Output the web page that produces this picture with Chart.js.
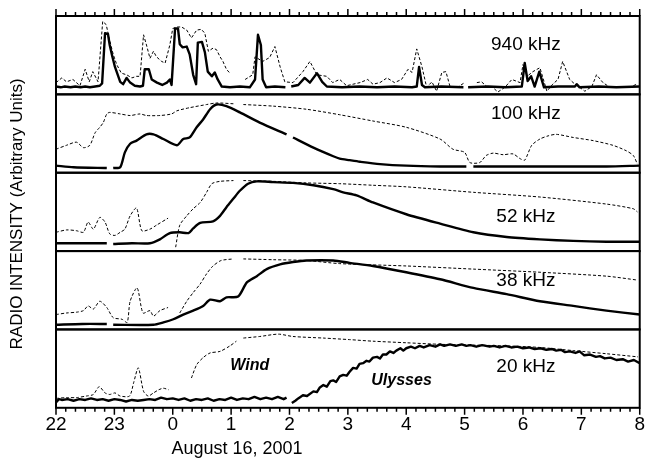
<!DOCTYPE html>
<html>
<head>
<meta charset="utf-8">
<script src="https://cdn.jsdelivr.net/npm/chart.js@4.4.1/dist/chart.umd.min.js"></script>
<style>
  html, body { margin: 0; padding: 0; background: #fff; }
</style>
</head>
<body>
<canvas id="radio" width="645" height="459"></canvas>
<script>
// x = hours after 22 UT (Aug 15), 10 h span; labels for the whole hours
var hourLabels = ['22', '23', '0', '1', '2', '3', '4', '5', '6', '7', '8'];
var freqLabels = ['940 kHz', '100 kHz', '52 kHz', '38 kHz', '20 kHz'];

// [hours, relative intensity 0-100 inside its panel]; null = data gap
var uly940 = [[0,10],[0.08,9],[0.15,10],[0.25,9],[0.33,10],[0.42,9],[0.5,10],[0.58,9],[0.67,10],[0.75,11],[0.79,14],[0.84,78],[0.89,77],[0.92,63],[0.96,50],[1.01,35],[1.10,16],[1.15,13],[1.21,21],[1.27,15],[1.35,11],[1.44,10],[1.49,11],[1.52,32],[1.59,32],[1.64,19],[1.73,15],[1.82,12],[1.90,15],[1.95,19],[1.98,12],[2.04,84],[2.09,84],[2.12,64],[2.17,60],[2.24,61],[2.29,51],[2.35,25],[2.40,13],[2.43,66],[2.50,67],[2.55,54],[2.60,29],[2.67,23],[2.72,28],[2.77,19],[2.84,10],[2.98,9],[3.15,10],[3.32,9],[3.41,19],[3.46,76],[3.51,63],[3.54,19],[3.60,9],[3.75,10],[3.93,9],[3.97,null],[4.03,10],[4.15,12],[4.26,21],[4.35,15],[4.47,27],[4.56,16],[4.64,10],[4.9,9],[5.2,10],[5.5,9],[5.8,10],[6.1,9],[6.18,10],[6.22,35],[6.27,12],[6.32,9],[6.6,10],[6.98,9],[7.02,null],[7.06,9],[7.4,10],[7.7,9],[7.98,10],[8.03,40],[8.08,17],[8.14,23],[8.2,10],[8.28,29],[8.36,9],[8.6,10],[8.89,10],[8.92,13],[8.97,9],[9.3,10],[9.6,9],[10,10]];
var wind940 = [[0,15],[0.10,21],[0.18,16],[0.29,19],[0.41,11],[0.50,32],[0.57,16],[0.63,29],[0.72,16],[0.80,93],[0.86,89],[0.91,72],[0.98,51],[1.04,38],[1.12,27],[1.21,25],[1.30,21],[1.38,23],[1.44,23],[1.50,76],[1.55,63],[1.61,46],[1.67,55],[1.72,48],[1.81,42],[1.87,40],[1.95,63],[2.00,84],[2.07,86],[2.15,86],[2.24,82],[2.32,72],[2.41,82],[2.49,83],[2.55,78],[2.61,55],[2.69,59],[2.75,57],[2.81,48],[2.86,42],[2.92,32],[2.98,27],[3.05,null],[3.24,19],[3.37,25],[3.41,48],[3.54,42],[3.66,47],[3.75,61],[3.84,35],[3.92,16],[4.06,15],[4.23,29],[4.35,42],[4.47,25],[4.64,23],[4.74,15],[4.86,19],[4.98,11],[5.09,13],[5.21,15],[5.34,19],[5.43,13],[5.55,15],[5.67,21],[5.80,15],[5.92,19],[6.03,32],[6.10,28],[6.18,58],[6.27,35],[6.35,9],[6.44,16],[6.52,4],[6.61,28],[6.68,29],[6.75,10],[6.88,9],[7.00,15],[7.05,null],[7.21,15],[7.29,16],[7.38,10],[7.48,9],[7.57,3],[7.69,9],[7.81,19],[7.95,15],[8.00,38],[8.07,23],[8.17,29],[8.29,34],[8.41,4],[8.51,13],[8.60,19],[8.68,42],[8.80,19],[8.89,13],[8.97,9],[9.06,4],[9.18,10],[9.26,25],[9.37,15],[9.49,9],[9.66,10],[9.83,9],[9.95,13]];

var uly100 = [[0,9],[0.30,7],[0.87,6],[0.92,null],[0.98,6],[1.10,7],[1.18,26],[1.27,37],[1.38,41],[1.55,49],[1.67,49],[1.84,43],[2.07,35],[2.18,43],[2.29,45],[2.41,58],[2.52,68],[2.64,81],[2.75,87],[2.92,85],[3.15,77],[3.49,64],[3.95,49],[3.99,null],[4.06,45],[4.41,32],[4.75,21],[4.86,18],[5.03,16],[5.21,14],[5.55,11],[6.00,9],[6.58,8],[7.03,8],[7.06,null],[7.15,8],[8.29,8],[9.43,8],[10,9]];
var wind100 = [[0,30],[0.18,35],[0.35,39],[0.47,32],[0.58,35],[0.67,51],[0.75,58],[0.81,64],[0.87,75],[0.92,77],[1.10,75],[1.27,73],[1.44,75],[1.55,73],[1.78,73],[1.98,75],[2.07,79],[2.29,83],[2.58,87],[2.75,89],[3.04,88],[3.08,null],[3.21,87],[3.72,85],[4.29,81],[4.86,74],[5.43,66],[6.00,58],[6.58,43],[6.80,30],[7.00,26],[7.09,13],[7.26,13],[7.37,22],[7.49,25],[7.66,23],[7.83,24],[7.95,18],[8.03,16],[8.15,35],[8.29,43],[8.43,47],[8.57,49],[8.86,45],[9.20,41],[9.54,35],[9.77,28],[9.89,22],[9.96,11]];

var uly52 = [[0,10],[0.45,10],[0.87,10],[0.90,null],[0.98,9],[1.30,10],[1.61,10],[1.78,15],[1.95,23],[2.12,24],[2.27,23],[2.35,29],[2.47,36],[2.69,38],[2.81,45],[2.92,56],[3.04,67],[3.15,77],[3.29,86],[3.44,89],[3.72,88],[4.06,87],[4.41,84],[4.75,79],[4.92,75],[5.15,71],[5.43,62],[6.00,47],[6.58,35],[7.15,24],[7.72,18],[8.29,15],[8.86,13],[9.43,12],[10,12]];
var wind52 = [[0,24],[0.18,27],[0.35,26],[0.47,24],[0.55,37],[0.64,28],[0.75,43],[0.84,37],[0.92,22],[1.01,20],[1.10,24],[1.18,28],[1.27,45],[1.38,55],[1.47,26],[1.61,28],[1.72,33],[1.92,42],[1.96,null],[2.05,5],[2.12,33],[2.24,45],[2.35,54],[2.47,62],[2.58,75],[2.67,86],[2.81,89],[3.04,90],[3.08,null],[3.21,90],[3.72,89],[4.29,87],[4.86,86],[5.43,84],[6.00,82],[7.15,75],[8.29,69],[9.43,60],[9.89,54],[9.96,50]];

var uly38 = [[0,6],[0.45,7],[0.87,7],[0.92,null],[0.98,6],[1.67,6],[1.84,9],[2.01,13],[2.18,19],[2.35,24],[2.52,30],[2.64,38],[2.81,36],[2.92,41],[3.12,42],[3.27,60],[3.44,68],[3.61,77],[3.84,83],[4.06,86],[4.29,88],[4.75,88],[5.03,85],[5.43,81],[6.00,73],[6.58,64],[7.15,53],[7.72,45],[8.29,36],[8.86,30],[9.43,24],[10,19]];
var wind38 = [[0,19],[0.18,21],[0.35,22],[0.47,24],[0.55,30],[0.64,26],[0.75,36],[0.87,28],[0.98,15],[1.13,13],[1.22,9],[1.27,36],[1.39,53],[1.49,21],[1.61,24],[1.67,17],[1.78,24],[1.92,28],[1.96,null],[2.12,21],[2.24,36],[2.35,47],[2.47,58],[2.58,71],[2.69,81],[2.83,88],[3.04,90],[3.08,null],[3.21,90],[3.72,89],[4.29,88],[4.86,84],[6.00,81],[7.15,77],[8.29,73],[9.43,68],[9.96,63]];

var uly20 = [[0,7],[0.05,11],[0.1,10],[0.2,11],[0.3,9],[0.4,11],[0.5,10],[0.6,12],[0.7,10],[0.8,11],[0.9,9],[1.0,11],[1.1,10],[1.2,8],[1.3,10],[1.4,9],[1.5,10],[1.6,11],[1.7,10],[1.8,13],[1.9,11],[2.0,12],[2.1,10],[2.2,12],[2.3,9],[2.4,11],[2.5,10],[2.6,12],[2.7,9],[2.8,11],[2.9,10],[3.0,13],[3.1,10],[3.2,12],[3.3,11],[3.4,14],[3.5,11],[3.6,13],[3.7,11],[3.8,14],[3.9,11],[3.95,13],[3.99,null],[4.04,6],[4.1,9],[4.15,12],[4.23,16],[4.3,15],[4.41,21],[4.47,20],[4.52,26],[4.58,29],[4.64,27],[4.7,34],[4.75,35],[4.8,33],[4.86,40],[4.92,42],[4.98,41],[5.03,46],[5.09,51],[5.15,50],[5.2,56],[5.26,57],[5.32,60],[5.37,59],[5.43,64],[5.5,65],[5.55,63],[5.6,68],[5.66,68],[5.72,72],[5.78,70],[5.83,73],[5.9,76],[5.95,73],[6.0,76],[6.08,78],[6.15,76],[6.23,79],[6.3,77],[6.4,80],[6.5,78],[6.58,81],[6.65,79],[6.75,81],[6.85,79],[6.95,81],[7.03,79],[7.1,80],[7.2,78],[7.3,80],[7.43,78],[7.5,79],[7.6,77],[7.7,79],[7.8,77],[7.9,78],[8.0,76],[8.1,77],[8.2,75],[8.3,76],[8.4,74],[8.5,75],[8.57,73],[8.65,74],[8.72,71],[8.8,72],[8.9,70],[8.97,72],[9.05,67],[9.15,68],[9.25,65],[9.32,66],[9.4,63],[9.5,64],[9.6,61],[9.71,62],[9.8,59],[9.9,61],[10,57]];
var wind20 = [[0,12],[0.18,13],[0.35,13],[0.52,15],[0.64,17],[0.74,27],[0.84,19],[0.92,17],[1.01,19],[1.10,15],[1.26,15],[1.33,32],[1.41,51],[1.50,21],[1.58,15],[1.67,19],[1.76,23],[1.84,25],[1.93,23],[1.98,null],[2.32,38],[2.41,55],[2.52,64],[2.64,70],[2.81,72],[2.98,79],[3.09,85],[3.13,null],[3.21,89],[3.49,91],[3.81,94],[4.06,91],[4.58,89],[5.03,87],[5.43,85],[6.00,83],[6.58,81],[7.15,80],[7.72,79],[8.29,77],[8.86,73],[9.43,69],[9.97,65]];

var ulysses = [uly940, uly100, uly52, uly38, uly20];
var wind = [wind940, wind100, wind52, wind38, wind20];

// label anchors: [hours, panel value]
var freqAt = [[8.05,63],[8.05,75],[8.05,44],[8.05,62],[8.05,53]];
var craftNotes = [['Wind', 3.32, 54], ['Ulysses', 5.92, 35]];

var FONT = '"Liberation Sans", Arial, Helvetica, sans-serif';
Chart.defaults.font.family = FONT;
Chart.defaults.color = '#000';

function toXY(arr) {
  return arr.map(function(p) { return { x: p[0] * 60, y: p[1] }; });
}

var datasets = [];
var scales = {
  x: {
    type: 'linear', min: 0, max: 600,
    grid: { display: false, drawTicks: false },
    border: { display: false },
    ticks: {
      stepSize: 10, autoSkip: false, maxRotation: 0, padding: 0,
      font: { size: 19, lineHeight: 1.8 }, color: '#000',
      callback: function(v) { return v % 60 === 0 ? hourLabels[v / 60] : ''; }
    }
  }
};

freqLabels.forEach(function(f, i) {
  var id = 'p' + (i + 1);
  scales[id] = {
    type: 'linear', min: 0, max: 100, position: 'left',
    stack: 'panels', stackWeight: 1, weight: 5 - i,
    ticks: { display: false },
    grid: { display: false, drawTicks: false },
    border: { display: false }
  };
  var spiky = i === 0;
  datasets.push({
    label: 'Wind ' + f, data: toXY(wind[i]), yAxisID: id,
    borderColor: '#000', borderWidth: 1, borderDash: [3, 2],
    pointRadius: 0, tension: spiky ? 0 : 0.25, spanGaps: false
  });
  datasets.push({
    label: 'Ulysses ' + f, data: toXY(ulysses[i]), yAxisID: id,
    borderColor: '#000', borderWidth: 2.4, borderJoinStyle: 'round',
    pointRadius: 0, tension: (spiky || i === 4) ? 0 : 0.25, spanGaps: false
  });
});

var panelFrames = {
  id: 'panelFrames',
  afterDatasetsDraw: function(chart) {
    var ctx = chart.ctx, area = chart.chartArea, x = chart.scales.x;
    ctx.save();
    ctx.strokeStyle = '#000';
    ctx.lineWidth = 2;
    freqLabels.forEach(function(f, i) {
      var s = chart.scales['p' + (i + 1)];
      ctx.strokeRect(area.left, s.top, area.right - area.left, s.bottom - s.top);
    });

    ctx.lineWidth = 1.5;
    ctx.beginPath();
    x.ticks.forEach(function(t) {
      var px = x.getPixelForValue(t.value);
      var len = t.value % 60 === 0 ? 7 : 4;
      ctx.moveTo(px, area.top); ctx.lineTo(px, area.top - len);
      ctx.moveTo(px, area.bottom); ctx.lineTo(px, area.bottom + len);
    });
    ctx.stroke();

    ctx.fillStyle = '#000';
    ctx.textAlign = 'center';
    ctx.textBaseline = 'middle';
    ctx.font = '19px ' + FONT;
    freqLabels.forEach(function(f, i) {
      var s = chart.scales['p' + (i + 1)];
      ctx.fillText(f, x.getPixelForValue(freqAt[i][0] * 60), s.getPixelForValue(freqAt[i][1]));
    });
    ctx.font = 'italic bold 16px ' + FONT;
    craftNotes.forEach(function(n) {
      ctx.fillText(n[0], x.getPixelForValue(n[1] * 60), chart.scales.p5.getPixelForValue(n[2]));
    });

    ctx.font = '18px ' + FONT;
    ctx.textBaseline = 'alphabetic';
    ctx.fillText('August 16, 2001', area.left + 181, area.bottom + 46);

    ctx.translate(17.5, (area.top + area.bottom) / 2 + 2);
    ctx.rotate(-Math.PI / 2);
    ctx.font = '17px ' + FONT;
    ctx.textBaseline = 'middle';
    ctx.fillText('RADIO INTENSITY (Arbitrary Units)', 0, 0);
    ctx.restore();
  }
};

new Chart(document.getElementById('radio'), {
  type: 'line',
  data: { datasets: datasets },
  options: {
    responsive: false,
    animation: false,
    layout: { padding: { left: 56, right: 4, top: 16, bottom: 17 } },
    plugins: { legend: { display: false }, tooltip: { enabled: false } },
    scales: scales
  },
  plugins: [panelFrames]
});
</script>
</body>
</html>
